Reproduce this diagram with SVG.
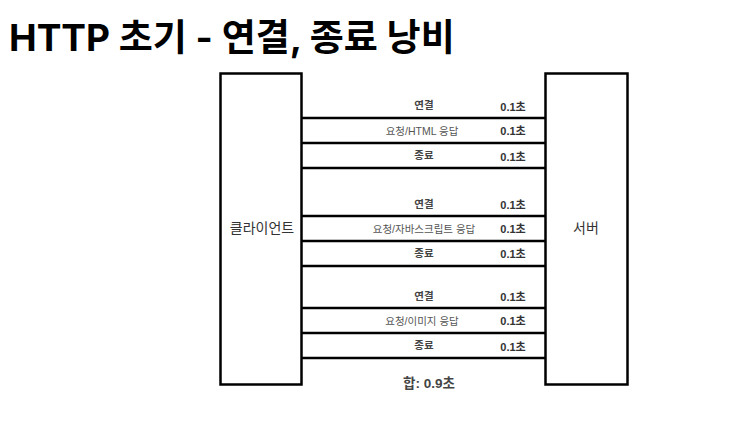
<svg xmlns="http://www.w3.org/2000/svg" width="752" height="432" viewBox="0 0 752 432">
<style>
.box{fill:#fff;stroke:#000;stroke-width:2.5}
.ln{stroke:#000;stroke-width:2.5;fill:none}
.t{font-family:"Liberation Sans","Noto Sans CJK KR",sans-serif;text-anchor:middle}
.lb{font-size:10.5px;fill:#444;font-weight:bold}
.lr{font-size:10.5px;fill:#555}
.tm{font-size:11px;fill:#333;font-weight:bold}
.nd{font-size:14px;fill:#333}
</style>
<rect width="752" height="432" fill="#fff"/>
<text x="9" y="51" font-family="Inter,'Noto Sans CJK KR',sans-serif" font-size="37" font-weight="bold" fill="#000">HTTP 초기 - 연결, 종료 낭비</text>
<g id="client"><rect class="box" x="220.5" y="73.5" width="81" height="311"/><text class="t nd" x="262" y="233">클라이언트</text></g>
<g id="server"><rect class="box" x="545.5" y="73.5" width="82" height="311"/><text class="t nd" x="586" y="233">서버</text></g>
<g id="connectors">
<path class="ln" d="M302 118H545M302 143H545M302 168H545M302 216H545M302 241H545M302 266H545M302 308H545M302 333H545M302 358H545"/>
</g>
<g id="labels">
<text class="t lb" x="424" y="109">연결</text><text class="t tm" x="513" y="111">0.1초</text>
<text class="t lr" x="422" y="135">요청/HTML 응답</text><text class="t tm" x="513" y="135">0.1초</text>
<text class="t lb" x="424" y="159">종료</text><text class="t tm" x="513" y="161">0.1초</text>
<text class="t lb" x="424" y="208">연결</text><text class="t tm" x="513" y="209">0.1초</text>
<text class="t lr" x="424" y="233">요청/자바스크립트 응답</text><text class="t tm" x="513" y="233">0.1초</text>
<text class="t lb" x="424" y="257">종료</text><text class="t tm" x="513" y="258">0.1초</text>
<text class="t lb" x="424" y="300">연결</text><text class="t tm" x="513" y="301">0.1초</text>
<text class="t lr" x="422" y="325">요청/이미지 응답</text><text class="t tm" x="513" y="325">0.1초</text>
<text class="t lb" x="424" y="349">종료</text><text class="t tm" x="513" y="351">0.1초</text>
<text class="t" x="429" y="388" font-size="13.5" font-weight="bold" fill="#444">합: 0.9초</text>
</g>
</svg>
